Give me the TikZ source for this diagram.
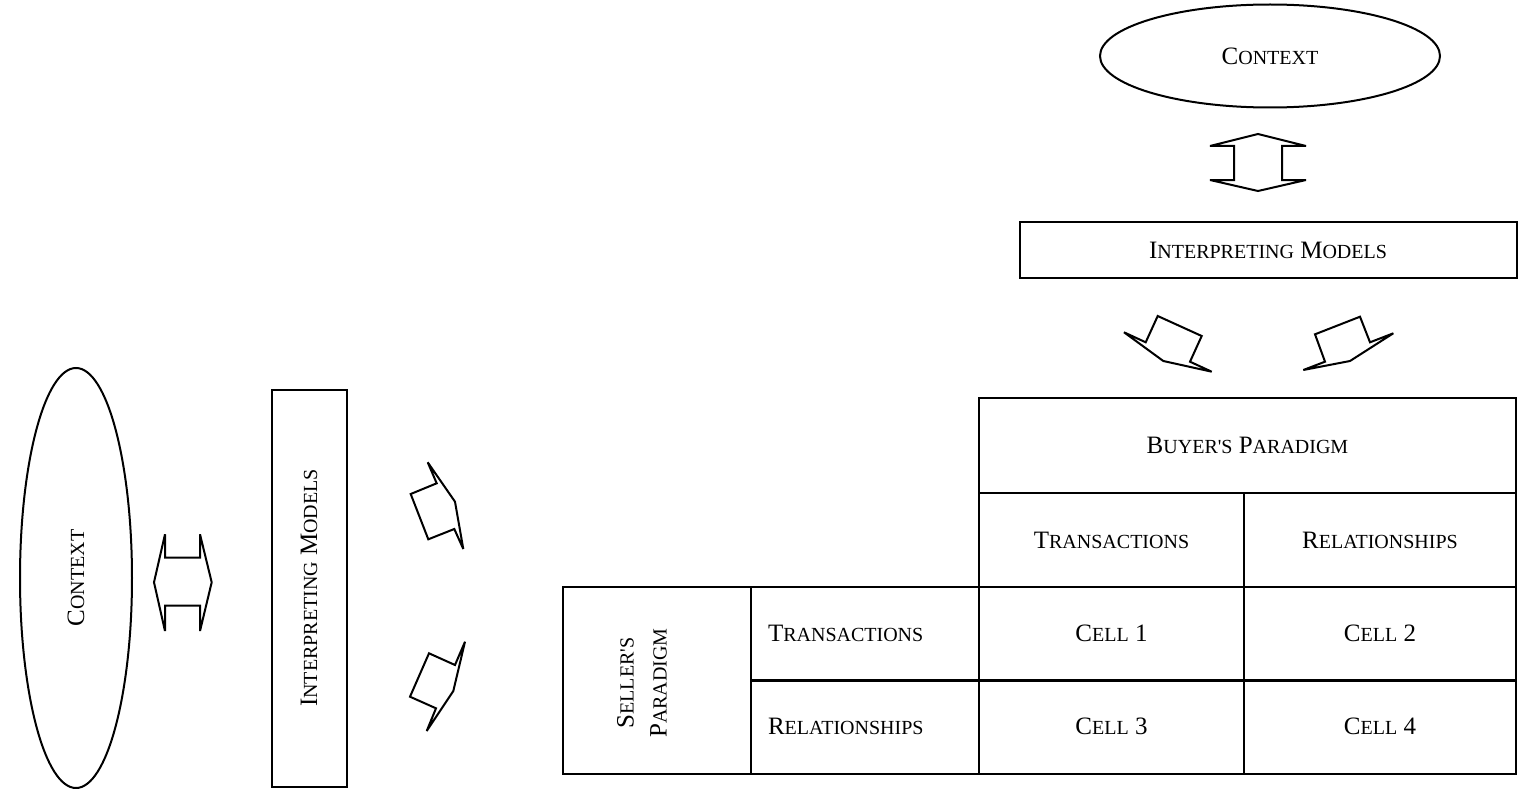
\documentclass[tikz,border=0pt]{standalone}
\usepackage{fontspec}
\setmainfont{Liberation Serif}
\usepackage{tikz}
\usetikzlibrary{shapes.geometric}
\newcommand\lblfont{\fontsize{25}{30}\selectfont}
\newcommand\sk[1]{{\fontsize{20}{24}\selectfont #1}}

\begin{document}
\begin{tikzpicture}[x=1pt, y=-1pt, line width=2pt,
        every node/.style = {align=center, inner sep=0pt, font=\lblfont},
        oval/.style = {shape=ellipse, draw},
        box/.style = {shape=rectangle, draw},
        cell/.style = {shape=rectangle, draw, minimum height=94pt},
        leftcell/.style = {cell, text width=194pt, align=left, inner xsep=17pt},
        blockarrow/.style = {draw, line join=miter, miter limit=4}]
    \useasboundingbox (0,0) rectangle (1518,789);

    % top: context and models
    \node[oval, minimum width=340pt, minimum height=103pt] (ctxtop) at (1270,56) {C\sk{ONTEXT}};
    \node[box, minimum width=497pt, minimum height=56pt] (modtop) at (1268,250) {I\sk{NTERPRETING} M\sk{ODELS}};

    % left: context and models, turned
    \node[oval, rotate=90, minimum width=420pt, minimum height=112pt] (ctxleft) at (76,578) {C\sk{ONTEXT}};
    \node[box, rotate=90, minimum width=397pt, minimum height=75pt] (modleft) at (309,588) {I\sk{NTERPRETING} M\sk{ODELS}};

    % the paradigm table
    \node[cell, minimum width=537pt, minimum height=95pt] (buyer) at (1247.5,445.5) {B\sk{UYER\textquotesingle S} P\sk{ARADIGM}};
    \node[cell, minimum width=265pt] (btrans) at (1111.5,540) {T\sk{RANSACTIONS}};
    \node[cell, minimum width=272pt] (brel) at (1380,540) {R\sk{ELATIONSHIPS}};
    \node[cell, minimum width=188pt, minimum height=187pt] (seller) at (657,680) {};
    \node[rotate=90] (sellertxt) at (642,683) {S\sk{ELLER\textquotesingle S}\\[3pt]P\sk{ARADIGM}};
    \node[leftcell] (strans) at (865,633.5) {T\sk{RANSACTIONS}};
    \node[leftcell] (srel) at (865,726.5) {R\sk{ELATIONSHIPS}};
    \node[cell, minimum width=265pt] (cellone) at (1111.5,633.5) {C\sk{ELL} 1};
    \node[cell, minimum width=272pt] (celltwo) at (1380,633.5) {C\sk{ELL} 2};
    \node[cell, minimum width=265pt] (cellthree) at (1111.5,726.5) {C\sk{ELL} 3};
    \node[cell, minimum width=272pt] (cellfour) at (1380,726.5) {C\sk{ELL} 4};

    % block arrows
    \draw[blockarrow] (1258,134) -- (1306,146) -- (1282,146) -- (1282,180) -- (1306,180)
        -- (1258,191) -- (1210,180) -- (1234,180) -- (1234,146) -- (1210,146) -- cycle;
    \draw[blockarrow] (1124,332.3) -- (1145.7,342.3) -- (1157.7,316) -- (1201.7,336)
        -- (1190,361.7) -- (1211.7,371.7) -- (1163.3,361) -- cycle;
    \draw[blockarrow] (1315,334.3) -- (1360,316.7) -- (1370,342.3) -- (1393.3,333.3)
        -- (1350,361) -- (1303.3,370) -- (1325,361.7) -- cycle;
    \draw[blockarrow] (154,582.3) -- (165,534.3) -- (165,557.7) -- (200,557.7) -- (200,534.3)
        -- (211.7,582.3) -- (200,631) -- (200,605.7) -- (165,605.7) -- (165,631) -- cycle;
    \draw[blockarrow] (427.7,462.3) -- (436.7,483.3) -- (410.7,494) -- (428.3,539.3)
        -- (454.3,529) -- (463.3,549) -- (455,501.7) -- cycle;
    \draw[blockarrow] (465,641.7) -- (455,665) -- (429,653.3) -- (410,696.7)
        -- (436,708.3) -- (426.7,731) -- (453.3,691) -- cycle;
\end{tikzpicture}
\end{document}
